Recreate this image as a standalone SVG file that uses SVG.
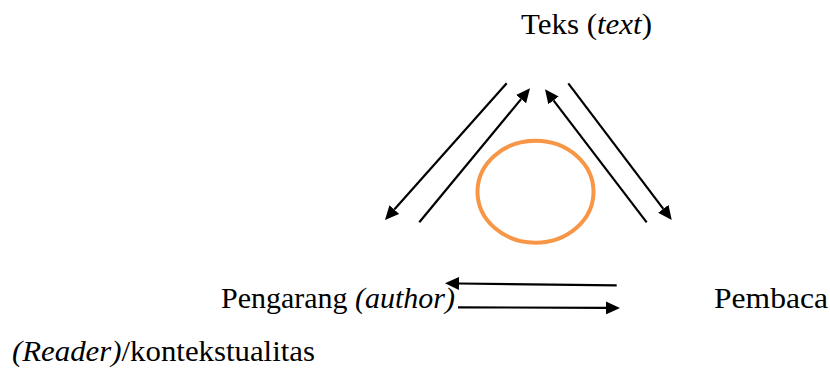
<svg xmlns="http://www.w3.org/2000/svg" width="830" height="369" viewBox="0 0 830 369">
<style>
.t{font-family:"Liberation Serif","Times New Roman",serif;font-size:30px;fill:#000}
.i{font-style:italic}
.c{stroke:#000;stroke-width:2.2;fill:none;marker-end:url(#ah)}
</style>
<defs>
<marker id="ah" markerUnits="userSpaceOnUse" markerWidth="15" markerHeight="13" refX="0" refY="6.5" orient="auto">
<path d="M0,0 L14,6.5 L0,13 z" fill="#000"/>
</marker>
</defs>
<rect width="830" height="369" fill="#fff"/>
<g id="node-teks"><text class="t" x="521" y="34" textLength="131" lengthAdjust="spacingAndGlyphs">Teks (<tspan class="i">text</tspan>)</text></g>
<g id="node-pengarang"><text class="t" x="221" y="308" textLength="234" lengthAdjust="spacingAndGlyphs">Pengarang <tspan class="i">(author)</tspan></text></g>
<g id="node-pembaca"><text class="t" x="714" y="308" textLength="114" lengthAdjust="spacingAndGlyphs">Pembaca</text></g>
<g id="node-reader"><text class="t" x="12" y="361" textLength="303" lengthAdjust="spacingAndGlyphs"><tspan class="i">(Reader)</tspan>/kontekstualitas</text></g>
<g id="node-circle"><ellipse cx="535.5" cy="191.7" rx="58" ry="51" fill="none" stroke="#F79646" stroke-width="4"/></g>
<g id="connectors">
<line class="c" x1="506.7" y1="83.3" x2="394.3" y2="209.5"/>
<line class="c" x1="419.3" y1="222.3" x2="521.1" y2="99.1"/>
<line class="c" x1="646.7" y1="222.3" x2="553.5" y2="100.4"/>
<line class="c" x1="568.3" y1="83.3" x2="663.3" y2="208.8"/>
<line class="c" x1="616.7" y1="285.3" x2="459" y2="283.5"/>
<line class="c" x1="458" y1="307.3" x2="606" y2="307.9"/>
</g>
</svg>
